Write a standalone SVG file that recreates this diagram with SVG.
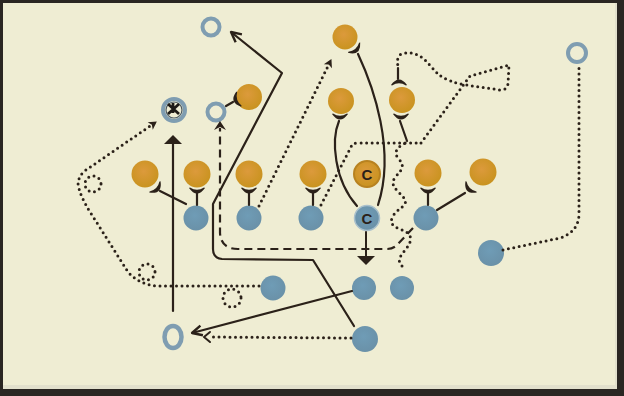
<svg xmlns="http://www.w3.org/2000/svg" width="624" height="396" viewBox="0 0 624 396">
<defs>
<radialGradient id="gO" cx="0.45" cy="0.4" r="0.6"><stop offset="0" stop-color="#dc9a3c"/><stop offset="1" stop-color="#c9931f"/></radialGradient>
<radialGradient id="gB" cx="0.45" cy="0.4" r="0.6"><stop offset="0" stop-color="#6f9cb6"/><stop offset="1" stop-color="#6a91a8"/></radialGradient>
<path id="cup" d="M-8,-3 Q0,8 8,-3 L7,-3.5 Q0,1 -7,-3.5 Z"/>
<marker id="tri" viewBox="-10 -10 12 20" refX="0" refY="0" markerWidth="12" markerHeight="20" markerUnits="userSpaceOnUse" orient="auto"><path d="M2,0 L-7,-9 L-7,9 Z" fill="#2b2119"/></marker>
<marker id="opn" viewBox="-12 -8 14 16" refX="0" refY="0" markerWidth="14" markerHeight="16" markerUnits="userSpaceOnUse" orient="auto"><path d="M0,0 L-10,-5 M0,0 L-10,5" stroke="#2b2119" stroke-width="2.4" fill="none"/></marker>
<marker id="sm" viewBox="-10 -6 12 12" refX="0" refY="0" markerWidth="12" markerHeight="12" markerUnits="userSpaceOnUse" orient="auto"><path d="M1,0 L-7,-4.5 L-5,0 L-7,4.5 Z" fill="#2b2119"/></marker>
</defs>
<style>
.o{fill:url(#gO)}
.b{fill:url(#gB)}
.h{fill:none;stroke:#7f9db1;stroke-width:4}
.s{fill:none;stroke:#2b2119;stroke-width:2.2;stroke-linecap:round;stroke-linejoin:round}
.d{fill:none;stroke:#2b2119;stroke-width:3;stroke-linecap:round;stroke-dasharray:0 5.5;stroke-linejoin:round}
.ds{fill:none;stroke:#2b2119;stroke-width:2.2;stroke-dasharray:8 5}
.c{fill:#2b2119}
.t{font-family:'Liberation Sans',Arial,sans-serif;font-weight:bold;font-size:15px;fill:#2b2119;text-anchor:middle}
</style>
<rect width="624" height="396" fill="#2a2622"/>
<rect x="3" y="3" width="614" height="386" fill="#e2e0cc"/>
<rect x="3" y="3" width="612" height="382" fill="#efedd3"/>

<g id="def-s"><circle class="o" cx="345" cy="37" r="12.5"/></g>
<g id="def-lb1"><circle class="o" cx="249" cy="97" r="13"/></g>
<g id="def-lb2"><circle class="o" cx="341" cy="101" r="13"/></g>
<g id="def-lb3"><circle class="o" cx="402" cy="100" r="13"/></g>
<g id="def-1"><circle class="o" cx="145" cy="174" r="13.5"/></g>
<g id="def-2"><circle class="o" cx="197" cy="174" r="13.5"/></g>
<g id="def-3"><circle class="o" cx="249" cy="174" r="13.5"/></g>
<g id="def-4"><circle class="o" cx="313" cy="174" r="13.5"/></g>
<g id="def-c"><circle class="o" cx="367" cy="174" r="13" stroke="#b88220" stroke-width="2"/><text class="t" x="367" y="180">C</text></g>
<g id="def-6"><circle class="o" cx="428" cy="173" r="13.5"/></g>
<g id="def-7"><circle class="o" cx="483" cy="172" r="13.5"/></g>

<g id="off-1"><circle class="b" cx="196" cy="218" r="12.5"/></g>
<g id="off-2"><circle class="b" cx="249" cy="218" r="12.5"/></g>
<g id="off-3"><circle class="b" cx="311" cy="218" r="12.5"/></g>
<g id="off-c"><circle class="b" cx="367" cy="218" r="12.5" stroke="#a9c0cc" stroke-width="1.5"/><text class="t" x="367" y="224">C</text></g>
<g id="off-5"><circle class="b" cx="426" cy="218" r="12.5"/></g>
<g id="off-6"><circle class="b" cx="491" cy="253" r="13"/></g>
<g id="off-7"><circle class="b" cx="273" cy="288" r="12.5"/></g>
<g id="off-8"><circle class="b" cx="364" cy="288" r="12"/></g>
<g id="off-9"><circle class="b" cx="402" cy="288" r="12"/></g>
<g id="off-10"><circle class="b" cx="365" cy="339" r="13"/></g>

<g id="pos-a"><circle class="h" cx="211" cy="27" r="8.5"/></g>
<g id="pos-b"><circle class="h" cx="216" cy="112" r="8.5"/></g>
<g id="pos-c"><circle class="h" cx="577" cy="53" r="9"/></g>
<g id="pos-d"><ellipse class="h" cx="173" cy="337" rx="8.5" ry="11" style="stroke-width:4.5"/></g>
<g id="pos-x"><circle class="h" cx="174" cy="110" r="11"/><circle cx="174" cy="110" r="8" fill="none" stroke="#4c5a63" stroke-width="1.2"/><path d="M168,104 L179,114 M179,104 L168,114 M173,103 V113" stroke="#1e1a16" stroke-width="2.8" fill="none"/></g>

<g id="connectors">
<g class="s"><path d="M197,205 V193 M249,205 V193 M313,205 V193 M428,205 V193"/></g>
<use href="#cup" class="c" x="197" y="191"/>
<use href="#cup" class="c" x="249" y="191"/>
<use href="#cup" class="c" x="313" y="191"/>
<use href="#cup" class="c" x="428" y="191"/>
<path class="s" d="M186,204 L160,191"/>
<use href="#cup" class="c" transform="translate(157,189) rotate(-45)"/>
<path class="s" d="M437,210 L465,193"/>
<use href="#cup" class="c" transform="translate(469,189) rotate(45)"/>
<path class="s" d="M339,121 C331,140 334,180 357,206"/>
<use href="#cup" class="c" x="340" y="117"/>
<path class="s" d="M358,54 C373,86 396,150 378,205"/>
<use href="#cup" class="c" transform="translate(356,50) rotate(-40)"/>
<path class="s" d="M400,121 L407,141"/>
<use href="#cup" class="c" x="401" y="117"/>
<path class="s" d="M398,68 V79"/>
<use href="#cup" class="c" transform="translate(399,82) rotate(180)"/>
<path class="s" d="M226,106 L233,102"/>
<use href="#cup" class="c" transform="translate(236,100) rotate(72)"/>
<path class="s" d="M366,232 V263" marker-end="url(#tri)" style="stroke-width:2"/>
<path class="s" d="M354,326 L313,260 L222,259 Q213,258 213,249 L213,204 L282,73 L231,32" marker-end="url(#opn)"/>
<path class="s" d="M352,291 L192,333" marker-end="url(#opn)"/>
<path class="s" d="M173,311 V137" marker-end="url(#tri)"/>
<path class="d" d="M351,338 L210,337"/>
<path class="s" d="M210,332 L204,337 L210,342" style="stroke-width:2"/>
<path class="ds" d="M413,228 L397,245 Q393,249 387,249 L238,249 Q221,249 220,233 L220,128"/>
<path d="M220,121 L214,130 L220,127 L226,130 Z" class="c"/>
<path class="d" d="M259,206 L331,60" marker-end="url(#sm)"/>
<path class="d" d="M321,205 L352,145 Q354,143 358,143 L421,143"/>
<path class="d" d="M402,266 C392,256 414,248 410,236 C407,228 388,230 392,218 C396,208 410,206 404,198 C398,190 388,186 396,176 C404,168 404,165 398,158 C393,152 398,146 406,143"/>
<path class="d" d="M421,143 L470,76 L509,65 L508,84 Q506,91 500,90 L466,85 Q448,82 438,74 L424,59 Q413,50 401,54 Q396,58 398,66"/>
<path class="d" d="M259,286 L158,286 Q140,285 128,272 L92,215 Q79,195 78,183 Q79,175 86,170 L156,122" marker-end="url(#sm)"/>
<circle class="d" cx="147" cy="272" r="8"/>
<circle class="d" cx="93" cy="184" r="8"/>
<circle class="d" cx="232" cy="298" r="9"/>
<path class="d" d="M503,250 L560,238 Q578,232 579,215 L579,66"/>
</g>
</svg>
